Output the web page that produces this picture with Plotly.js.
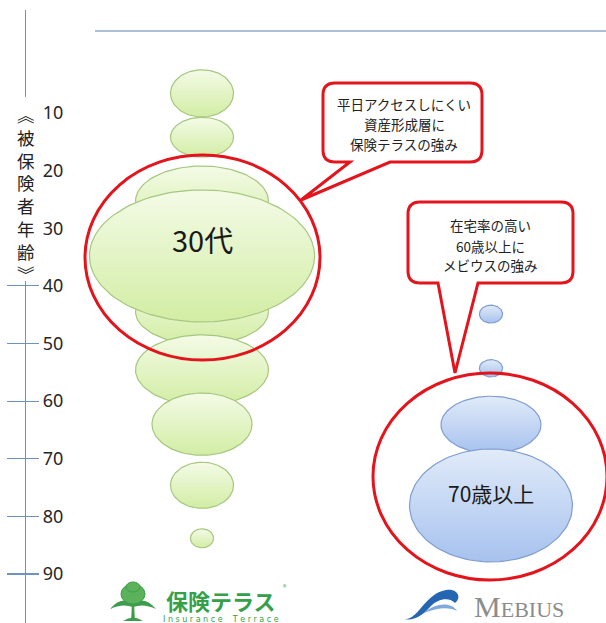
<!DOCTYPE html>
<html>
<head>
<meta charset="utf-8">
<script src="https://cdn.plot.ly/plotly-3.0.1.min.js"></script>
<style>
  html, body { margin: 0; padding: 0; background: #ffffff; }
  #chart { width: 606px; height: 623px; }
</style>
</head>
<body>
<div id="chart"></div>
<script>
// ---------------- data ----------------
const companies = ['保険テラス', 'MEBIUS'];
const ageTicks = [10, 20, 30, 40, 50, 60, 70, 80, 90];

// 保険テラス : age-band bubbles (centre age, age span, relative width)
const terraceBands = ['10歳未満', '10代', '20代', '30代', '40代', '50代', '60代', '70代', '80代'];
const terraceAge   = [6.6, 14.2, 25.3, 34.8, 44.5, 54.6, 64.0, 74.6, 83.8];
const terraceSpan  = [8.2, 6.9, 12.2, 22.9, 11.3, 12.2, 10.8, 8.0, 3.3];
const terraceWidth = [0.218, 0.218, 0.460, 0.779, 0.460, 0.460, 0.346, 0.218, 0.080];

// MEBIUS
const mebiusBands = ['40代', '50代', '60代', '70歳以上'];
const mebiusAge   = [44.9, 54.3, 64.1, 78.1];
const mebiusSpan  = [3.1, 3.0, 9.9, 19.6];
const mebiusWidth = [0.080, 0.080, 0.346, 0.564];

const bubbleLabels = ['30代', '70歳以上'];
const calloutTerrace = ['平日アクセスしにくい', '資産形成層に', '保険テラスの強み'];
const calloutMebius  = ['在宅率の高い', '60歳以上に', 'メビウスの強み'];
const yTitleChars = ['\uFE3D', '被', '保', '険', '者', '年', '齢', '\uFE3E'];

// ---------------- geometry helpers ----------------
const W = 606, H = 623, MT = 10;
const px = x => x / W;                 // pixel -> paper x
const py = y => (H - y) / (H - MT);    // pixel -> paper y
const FONT = '"Noto Sans CJK JP", "Noto Sans", sans-serif';

const GREEN = { top: '#f4fbe7', bottom: '#d2eda4', line: '#a6c77f' };
const BLUE  = { top: '#e1ebf9', bottom: '#a7c2ee', line: '#7f9dd1' };

function ellipseTrace(cx, cy, w, h, c, name) {
  const xs = [], ys = [];
  for (let i = 0; i <= 120; i++) {
    const t = 2 * Math.PI * i / 120;
    xs.push(cx + (w / 2) * Math.cos(t));
    ys.push(cy + (h / 2) * Math.sin(t));
  }
  return {
    type: 'scatter', mode: 'lines', x: xs, y: ys, name: name,
    fill: 'toself',
    fillcolor: c.bottom,
    fillgradient: { type: 'vertical', colorscale: [[0, c.bottom], [1, c.top]] },
    line: { color: c.line, width: 1.2 },
    hoverinfo: 'skip', showlegend: false
  };
}

const traces = [];
// draw order: the large 30代 bubble sits over its neighbours
const terraceOrder = [0, 1, 2, 4, 3, 5, 6, 7, 8];
terraceOrder.forEach(i => traces.push(
  ellipseTrace(1, terraceAge[i], terraceWidth[i], terraceSpan[i], GREEN, terraceBands[i])));
mebiusAge.forEach((a, i) => traces.push(
  ellipseTrace(2, a, mebiusWidth[i], mebiusSpan[i], BLUE, mebiusBands[i])));

// axis helper trace for the inside half of the ticks
traces.push({ type: 'scatter', x: [1], y: [50], yaxis: 'y2', mode: 'markers',
  marker: { opacity: 0 }, hoverinfo: 'skip', showlegend: false });

// ---------------- callout path ----------------
function callout(L, R, T, B, r, a, b, tx, ty) {
  const P = (x, y) => px(x) + ',' + py(y);
  return 'M' + P(L + r, T) +
    ' L' + P(R - r, T) + ' Q' + P(R, T) + ' ' + P(R, T + r) +
    ' L' + P(R, B - r) + ' Q' + P(R, B) + ' ' + P(R - r, B) +
    ' L' + P(b, B) + ' L' + P(tx, ty) + ' L' + P(a, B) +
    ' L' + P(L + r, B) + ' Q' + P(L, B) + ' ' + P(L, B - r) +
    ' L' + P(L, T + r) + ' Q' + P(L, T) + ' ' + P(L + r, T) + ' Z';
}
function pathPx(cmds) {
  return cmds.map(c => {
    const pts = [];
    for (let i = 1; i < c.length; i += 2) pts.push(px(c[i]) + ',' + py(c[i + 1]));
    return c[0] + pts.join(' ');
  }).join(' ') + ' Z';
}

const RED = '#e3141c';
const TREE = '#3c9e4c';
const shapes = [
  // top rule
  { type: 'line', xref: 'paper', yref: 'paper', x0: px(95), x1: px(606), y0: py(31), y1: py(31),
    line: { color: '#5b80ad', width: 1.2 } },
  // red highlight rings
  { type: 'circle', xref: 'paper', yref: 'paper', x0: px(85), x1: px(320), y0: py(155), y1: py(360),
    line: { color: RED, width: 3 } },
  { type: 'circle', xref: 'paper', yref: 'paper', x0: px(373), x1: px(607), y0: py(373), y1: py(580),
    line: { color: RED, width: 3 } },
  // speech bubbles
  { type: 'path', xref: 'paper', yref: 'paper', path: callout(323, 482, 83, 162, 12, 350, 390, 301, 200),
    fillcolor: '#ffffff', line: { color: RED, width: 3 } },
  { type: 'path', xref: 'paper', yref: 'paper', path: callout(408, 573, 202, 283, 12, 438, 478, 455, 373),
    fillcolor: '#ffffff', line: { color: RED, width: 3 } },
  // white backing behind the vertical axis title
  { type: 'rect', xref: 'paper', yref: 'paper', x0: px(3), x1: px(39), y0: py(97), y1: py(281),
    fillcolor: '#ffffff', line: { width: 0 } },
  // 保険テラス tree mark
  { type: 'path', xref: 'paper', yref: 'paper',
    path: pathPx([['M', 131, 621], ['L', 132, 604], ['L', 134, 604], ['L', 135, 621]]),
    fillcolor: TREE, line: { width: 0 } },
  { type: 'path', xref: 'paper', yref: 'paper',
    path: pathPx([['M', 133, 603], ['Q', 121, 596, 110, 609], ['Q', 122, 603, 133, 607]]),
    fillcolor: TREE, line: { width: 0 } },
  { type: 'path', xref: 'paper', yref: 'paper',
    path: pathPx([['M', 133, 603], ['Q', 145, 596, 156, 609], ['Q', 144, 603, 133, 607]]),
    fillcolor: TREE, line: { width: 0 } },
  { type: 'circle', xref: 'paper', yref: 'paper', x0: px(121), x1: px(145), y0: py(584), y1: py(604),
    fillcolor: '#5cb25a', line: { color: TREE, width: 1 } },
  { type: 'circle', xref: 'paper', yref: 'paper', x0: px(126), x1: px(140), y0: py(582), y1: py(592),
    fillcolor: '#5cb25a', line: { color: TREE, width: 1 } },
  { type: 'path', xref: 'paper', yref: 'paper',
    path: pathPx([['M', 123, 621], ['Q', 133, 614, 143, 621]]),
    fillcolor: TREE, line: { width: 0 } },
  // MEBIUS swoosh mark
  { type: 'path', xref: 'paper', yref: 'paper',
    path: pathPx([['M', 404, 619],
                  ['C', 418, 621, 424, 594, 446, 590],
                  ['C', 458, 588, 462, 598, 455, 603],
                  ['C', 450, 597, 438, 598, 430, 607],
                  ['C', 422, 616, 414, 621, 404, 619]]),
    fillcolor: '#2566b3', line: { width: 0 } },
  { type: 'path', xref: 'paper', yref: 'paper',
    path: pathPx([['M', 424, 613],
                  ['C', 436, 602, 452, 602, 457, 611],
                  ['C', 450, 607, 438, 607, 424, 613]]),
    fillcolor: '#7fa9db', line: { width: 0 } }
];

// ---------------- annotations ----------------
const annotations = [];
const A = o => Object.assign({ showarrow: false, xanchor: 'center', yanchor: 'middle' }, o);
// bubble labels (data coordinates)
annotations.push(A({ x: 1, y: terraceAge[3] - 3.0, xref: 'x', yref: 'y', text: bubbleLabels[0],
  font: { family: FONT, size: 29, color: '#1a1a1a' } }));
annotations.push(A({ x: 2, y: mebiusAge[3] - 2.2, xref: 'x', yref: 'y', text: bubbleLabels[1],
  font: { family: FONT, size: 21, color: '#1a1a1a' } }));

// callout texts
const c1y = [104, 124, 144], c2y = [225, 246, 265];
calloutTerrace.forEach((t, i) => annotations.push(A({ x: px(404), y: py(c1y[i]), xref: 'paper', yref: 'paper',
  text: t, font: { family: FONT, size: 13.5, color: '#222222' } })));
calloutMebius.forEach((t, i) => annotations.push(A({ x: px(490), y: py(c2y[i]), xref: 'paper', yref: 'paper',
  text: t, font: { family: FONT, size: 13.5, color: '#222222' } })));

// vertical axis title (stacked characters, one text block)
annotations.push(A({ x: px(26), y: py(194), xref: 'paper', yref: 'paper',
  text: yTitleChars.join('<br>'), align: 'center',
  font: { family: FONT, size: 17.5, color: '#222222' } }));

// company logos
annotations.push(A({ x: px(221), y: py(600), xref: 'paper', yref: 'paper', text: '<b>' + companies[0] + '</b>',
  font: { family: FONT, size: 22, color: '#35a04a' } }));
annotations.push(A({ x: px(285), y: py(587), xref: 'paper', yref: 'paper', text: '®',
  font: { family: FONT, size: 7, color: '#35a04a' } }));
annotations.push(A({ x: px(221), y: py(619), xref: 'paper', yref: 'paper',
  text: 'I n s u r a n c e &nbsp;&nbsp; T e r r a c e',
  font: { family: '"DejaVu Sans", sans-serif', size: 8, color: '#35a04a' } }));
annotations.push(A({ x: px(519), y: py(606), xref: 'paper', yref: 'paper',
  text: '<span style="font-size:30px">M</span>EBIUS',
  font: { family: '"Liberation Serif", "DejaVu Serif", serif', size: 22, color: '#8c8c8c' } }));

// ---------------- layout ----------------
const yRange = [98.5, -7.87];
const AXIS_COLOR = '#6d93c6';
const layout = {
  width: W, height: H,
  margin: { l: 0, r: 0, t: MT, b: 0, pad: 0 },
  paper_bgcolor: '#ffffff', plot_bgcolor: '#ffffff',
  showlegend: false,
  xaxis: { range: [0.301, 2.398], visible: false, fixedrange: true },
  yaxis: {
    range: yRange, anchor: 'free', position: px(25), side: 'right', layer: 'below traces',
    tickvals: ageTicks, ticktext: ageTicks.map(String),
    ticks: 'outside', ticklen: 13, tickwidth: 1.2, tickcolor: AXIS_COLOR,
    showline: true, linecolor: AXIS_COLOR, linewidth: 1.2,
    showgrid: false, zeroline: false,
    tickfont: { family: '"Noto Sans", sans-serif', size: 18, color: '#262626' },
    fixedrange: true
  },
  yaxis2: {
    range: yRange, overlaying: 'y', anchor: 'free', position: px(25), side: 'right', layer: 'below traces',
    tickvals: ageTicks, ticks: 'inside', ticklen: 18, tickwidth: 1.2, tickcolor: AXIS_COLOR,
    showticklabels: false, showline: false, showgrid: false, zeroline: false, fixedrange: true
  },
  shapes: shapes,
  annotations: annotations
};

Plotly.newPlot('chart', traces, layout, { staticPlot: true, displayModeBar: false });
</script>
</body>
</html>
